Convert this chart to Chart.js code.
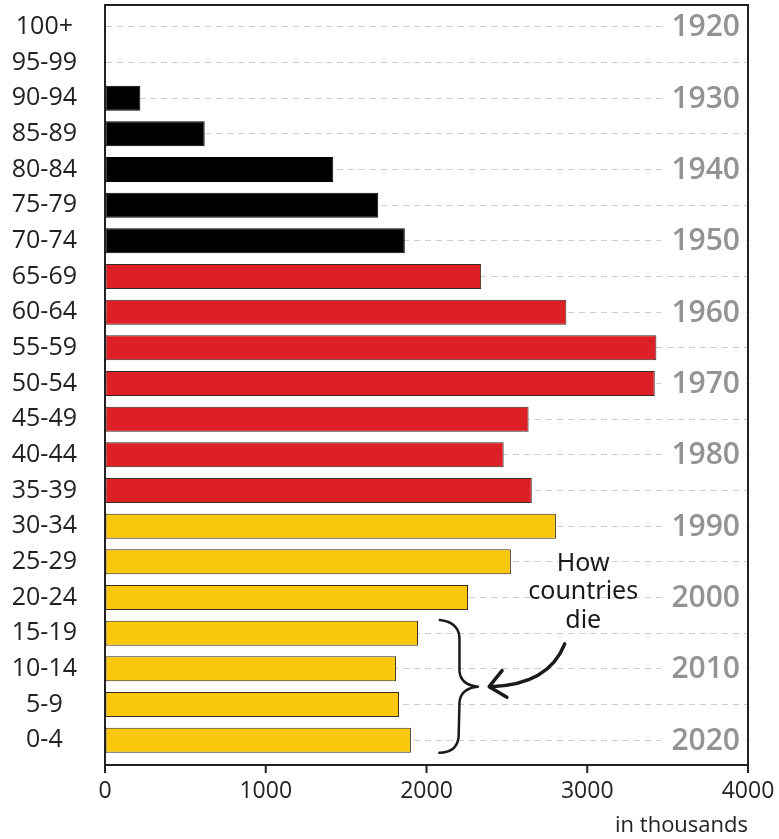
<!DOCTYPE html>
<html lang="en">
<head>
  <meta charset="UTF-8" />
  <title>How countries die</title>
  <script src="https://cdn.jsdelivr.net/npm/chart.js"></script>
  <style>
    html, body { margin: 0; padding: 0; background: #fff; }
    #wrap { width: 779px; height: 839px; }
  </style>
</head>
<body>
  <div id="wrap"><canvas id="popChart" width="779" height="839"></canvas></div>

  <script>
    // age groups top to bottom, population in thousands
    const ageGroups = ['100+', '95-99', '90-94', '85-89', '80-84', '75-79', '70-74', '65-69', '60-64', '55-59', '50-54',
      '45-49', '40-44', '35-39', '30-34', '25-29', '20-24', '15-19', '10-14', '5-9', '0-4'];
    const population = [0, 0, 220, 620, 1420, 1700, 1865, 2340, 2870, 3430, 3420,
      2635, 2480, 2655, 2805, 2525, 2258, 1947, 1810, 1829, 1903];
    const xTicks = [0, 1000, 2000, 3000, 4000];

    // birth-year markers on the right
    const yearRows = ['100+', '90-94', '80-84', '70-74', '60-64', '50-54', '40-44', '30-34', '20-24', '10-14', '0-4'];
    const yearLabels = ['1920', '1930', '1940', '1950', '1960', '1970', '1980', '1990', '2000', '2010', '2020'];

    const noteLines = ['How', 'countries', 'die'];

    function barColor(label) {
      const age = parseInt(label);
      if (age >= 70) return '#000000';
      if (age >= 35) return '#dd1f26';
      return '#f9c80c';
    }
    function barBorder(label) {
      const age = parseInt(label);
      if (age >= 70) return '#000000';
      return '#3a2a20';
    }

    const framePlugin = {
      id: 'frame',
      afterDraw(chart) {
        const { ctx, chartArea: a, scales: { x } } = chart;
        const top = a.top - 4, bottom = a.bottom + 7;
        ctx.save();
        ctx.strokeStyle = '#222';
        ctx.lineWidth = 2;
        ctx.strokeRect(a.left, top, a.right - a.left, bottom - top);
        ctx.beginPath();
        xTicks.forEach(v => {
          const px = x.getPixelForValue(v);
          ctx.moveTo(px, bottom);
          ctx.lineTo(px, bottom + 8);
        });
        ctx.stroke();
        ctx.restore();
      }
    };

    const yearPlugin = {
      id: 'years',
      afterDatasetsDraw(chart) {
        const { ctx, chartArea: a, scales: { y } } = chart;
        ctx.save();
        ctx.font = '600 30px "Open Sans"';
        ctx.textAlign = 'right';
        ctx.textBaseline = 'middle';
        yearRows.forEach((row, i) => {
          const py = y.getPixelForValue(ageGroups.indexOf(row));
          const w = ctx.measureText(yearLabels[i]).width;
          ctx.fillStyle = '#fff';
          ctx.fillRect(a.right - 8 - w - 10, py - 14, w + 16, 28);
          ctx.fillStyle = '#939393';
          ctx.fillText(yearLabels[i], a.right - 8, py + 1);
        });
        ctx.restore();
      }
    };

    const notePlugin = {
      id: 'note',
      afterDatasetsDraw(chart) {
        const { ctx, scales: { x, y } } = chart;
        const X = v => x.getPixelForValue(v);
        const Y = i => y.getPixelForValue(i);
        ctx.save();
        ctx.fillStyle = '#1a1a1a';
        ctx.font = '25px "Noto Sans"';
        ctx.textAlign = 'center';
        ctx.textBaseline = 'middle';
        noteLines.forEach((t, i) => ctx.fillText(t, X(2975), Y(15.05) + i * 28.5));

        ctx.strokeStyle = '#1a1a1a';
        ctx.lineWidth = 2.5;
        ctx.lineCap = 'round';
        ctx.lineJoin = 'round';
        // brace
        ctx.beginPath();
        ctx.moveTo(X(2083), Y(16.63));
        ctx.quadraticCurveTo(X(2210), Y(16.7), X(2205), Y(17.2));
        ctx.lineTo(X(2205), Y(18.05));
        ctx.quadraticCurveTo(X(2210), Y(18.45), X(2320), Y(18.5));
        ctx.quadraticCurveTo(X(2210), Y(18.55), X(2205), Y(18.95));
        ctx.lineTo(X(2200), Y(19.9));
        ctx.quadraticCurveTo(X(2190), Y(20.35), X(2080), Y(20.35));
        ctx.stroke();

        // arrow
        ctx.lineWidth = 3.5;
        ctx.beginPath();
        ctx.moveTo(X(2860), Y(17.3));
        ctx.quadraticCurveTo(X(2760), Y(18.45), X(2400), Y(18.5));
        ctx.stroke();
        ctx.beginPath();
        ctx.moveTo(X(2470), Y(18.05));
        ctx.lineTo(X(2390), Y(18.5));
        ctx.lineTo(X(2500), Y(18.8));
        ctx.stroke();
        ctx.restore();
      }
    };

    new Chart(document.getElementById('popChart'), {
      type: 'bar',
      data: {
        labels: ageGroups,
        datasets: [{
          data: population,
          backgroundColor: ageGroups.map(barColor),
          borderColor: ageGroups.map(barBorder),
          borderWidth: 1,
          borderSkipped: false,
          barPercentage: 0.7,
          categoryPercentage: 1
        }]
      },
      options: {
        indexAxis: 'y',
        responsive: false,
        animation: false,
        layout: { padding: { left: 8, right: 31, top: 9, bottom: 0 } },
        plugins: { legend: { display: false }, tooltip: { enabled: false } },
        scales: {
          x: {
            min: 0,
            max: 4000,
            afterBuildTicks: s => { s.ticks = xTicks.map(v => ({ value: v })); },
            afterFit: s => { s.height = 81; s.paddingLeft = 0; s.paddingRight = 0; },
            grid: { drawOnChartArea: false, drawTicks: false },
            border: { display: false },
            ticks: {
              font: { family: 'Open Sans', size: 23 }, color: '#222', padding: 20, maxRotation: 0,
              callback: v => String(v)
            },
            title: {
              display: true, text: 'in thousands', align: 'end', color: '#222',
              font: { family: 'Open Sans', size: 22 }, padding: { top: 0, bottom: 0 }
            }
          },
          y: {
            afterFit: s => { s.width = 97; s.paddingTop = 0; s.paddingBottom = 0; },
            grid: { offset: false, color: '#cccccc', lineWidth: 1, drawTicks: false },
            border: { color: '#222', width: 2, dash: [6, 5] },
            ticks: { font: { family: 'Open Sans', size: 25 }, color: '#222', crossAlign: 'center', padding: 28, autoSkip: false }
          }
        }
      },
      plugins: [framePlugin, yearPlugin, notePlugin]
    });
  </script>
</body>
</html>
